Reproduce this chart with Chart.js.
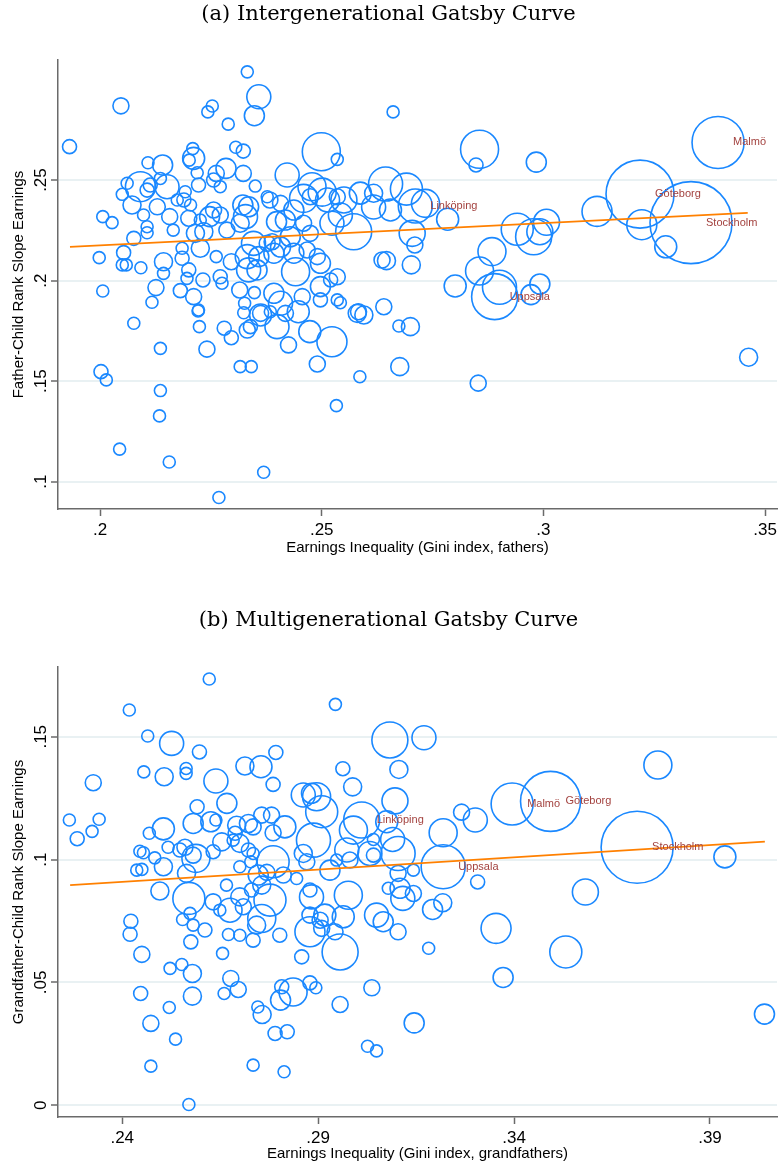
<!DOCTYPE html>
<html>
<head>
<meta charset="utf-8">
<script src="https://cdn.jsdelivr.net/npm/chart.js@4.4.0/dist/chart.umd.min.js"></script>
<style>
  body { margin: 0; background: #fff; }
  canvas { display: block; }
</style>
</head>
<body>
<canvas id="chartA" width="779" height="561"></canvas>
<canvas id="chartB" width="779" height="606"></canvas>
<script>
// ---- (a) fathers: municipalities ----
const giniA = [0.2332,0.2047,0.1931,0.2358,0.2348,0.2253,0.2243,0.2289,0.2499,0.2535,0.2306,0.2323,0.2209,0.2211,0.2201,0.2108,0.2141,0.2284,0.2262,0.2323,0.2422,0.2219,0.2256,0.2271,0.2222,0.2350,0.2061,0.2091,0.2151,0.2136,0.2113,0.2106,0.2050,0.2072,0.2129,0.2192,0.2189,0.2174,0.2204,0.2157,0.2098,0.2006,0.2027,0.2106,0.2106,0.2076,0.2165,0.2200,0.2226,0.2256,0.2247,0.2271,0.2286,0.2234,0.2215,0.2226,0.2185,0.2185,0.2200,0.2196,0.2143,0.2143,0.2053,0.2059,0.2050,0.2092,0.1998,0.2006,0.2117,0.2126,0.2181,0.2211,0.2222,0.2232,0.2262,0.2271,0.2275,0.2296,0.2315,0.2326,0.2348,0.2322,0.2335,0.2328,0.2316,0.2346,0.2332,0.2358,0.2335,0.2354,0.2377,0.2388,0.2392,0.2377,0.2383,0.2407,0.2398,0.2418,0.2437,0.2429,0.2437,0.2441,0.2459,0.2478,0.2474,0.2459,0.2474,0.2467,0.2490,0.2497,0.2456,0.2520,0.2535,0.2497,0.2535,0.2550,0.2542,0.2523,0.2572,0.2617,0.2644,0.2636,0.2535,0.2497,0.2583,0.2640,0.2392,0.2407,0.2362,0.2418,0.2221,0.2076,0.2224,0.2136,0.2241,0.2280,0.2296,0.2324,0.2332,0.2339,0.2362,0.2384,0.2399,0.2425,0.2447,0.2473,0.2523,0.2490,0.2542,0.2580,0.2595,0.2586,0.2533,0.2316,0.2341,0.2002,0.2014,0.2136,0.2134,0.2044,0.2156,0.2369,0.2268,0.2674,0.2700,0.2676,0.2853,0.3463,0.2661,0.2856,0.2848,0.2984,0.3121,0.3222,0.3276,0.2941,0.2978,0.2992,0.3007,0.2884,0.2856,0.2901,0.2801,0.2992,0.2972,0.2784,0.2691,0.2734,0.2655,0.2704,0.2710,0.2646,0.2702,0.2501,0.2513,0.2587,0.2617,0.2407];
const slopeA = [0.3038,0.2869,0.2666,0.2914,0.2820,0.2868,0.2839,0.2778,0.2641,0.2603,0.2663,0.2644,0.2656,0.2608,0.2599,0.2586,0.2575,0.2558,0.2533,0.2533,0.2525,0.2536,0.2500,0.2467,0.2475,0.2470,0.2484,0.2467,0.2467,0.2508,0.2475,0.2450,0.2429,0.2376,0.2367,0.2442,0.2401,0.2401,0.2376,0.2318,0.2326,0.2318,0.2288,0.2268,0.2238,0.2210,0.2251,0.2310,0.2301,0.2351,0.2318,0.2326,0.2251,0.2243,0.2235,0.2161,0.2161,0.2111,0.2053,0.2011,0.2094,0.2036,0.2139,0.2078,0.2078,0.2064,0.2114,0.1948,0.1892,0.1965,0.1950,0.1920,0.1854,0.2003,0.2119,0.2019,0.1987,0.2094,0.1953,0.1887,0.1940,0.2376,0.2367,0.2318,0.2285,0.2185,0.2119,0.2119,0.2053,0.2053,0.2185,0.2193,0.2136,0.2417,0.2401,0.2384,0.2293,0.2301,0.2351,0.2218,0.2136,0.2044,0.2409,0.2467,0.2417,0.2285,0.2235,0.2152,0.2119,0.2086,0.1920,0.2003,0.2019,0.1970,0.2417,0.2401,0.2326,0.2285,0.2243,0.2434,0.2480,0.2102,0.1904,0.1904,0.1845,0.1870,0.1937,0.1887,0.1837,0.1837,0.1849,0.1788,0.1771,0.1663,0.1659,0.1763,0.1716,0.1840,0.1754,0.1771,0.1829,0.1845,0.1771,0.1680,0.1845,0.1746,0.1696,0.1585,0.1890,0.1837,0.1829,0.1522,0.1378,0.1572,0.1572,0.1547,0.1506,0.1453,0.1327,0.1162,0.1098,0.1047,0.0921,0.1774,0.1771,0.1572,0.1490,0.1619,0.2839,0.2653,0.2575,0.2589,0.2344,0.2278,0.2168,0.2255,0.2218,0.2243,0.2290,0.2144,0.2048,0.1967,0.1973,0.1983,0.1930,0.2305,0.2455,0.2384,0.2351,0.2235,0.2177,0.2099,0.2078,0.2440,0.2401,0.2435,0.2366,0.2167];
const sizeA = [6,8,7,12,10,6,6,6,19,6,6,7,6,11,6,6,10,10,8,8,12,6,7,6,7,6,6,15,12,6,7,7,6,9,8,6,7,6,6,8,6,6,6,6,6,7,6,8,6,8,10,8,8,9,9,9,6,7,7,6,9,6,7,6,6,6,6,6,6,8,7,8,6,7,6,7,6,8,8,6,6,10,10,12,9,12,12,10,12,10,8,8,10,6,8,8,10,10,10,10,10,14,14,14,8,8,8,8,8,10,8,7,8,10,8,13,12,12,18,9,17,8,6,7,8,8,10,12,8,8,6,6,6,6,8,7,7,6,8,7,11,6,12,8,11,11,15,8,6,9,9,6,6,6,6,7,6,6,6,6,6,6,6,6,9,9,8,9,6,19,7,10,15,15,11,16,18,13,13,14,14,17,11,10,10,11,16,14,11,13,8,9,9,14,12,11,12,10];

// ---- (b) grandfathers: municipalities ----
const giniB = [0.2622,0.2418,0.2944,0.2465,0.2526,0.2597,0.2792,0.3083,0.2455,0.2507,0.2563,0.2563,0.2713,0.2754,0.2963,0.2326,0.2639,0.2785,0.2988,0.2667,0.2591,0.2862,0.2896,0.2909,0.2883,0.2990,0.2265,0.2341,0.2323,0.2285,0.2469,0.2505,0.2581,0.2626,0.2639,0.2692,0.2722,0.2734,0.2756,0.2781,0.2815,0.2785,0.2888,0.2973,0.3032,0.3041,0.2445,0.2454,0.2483,0.2517,0.2547,0.2560,0.2581,0.2588,0.2632,0.2654,0.2683,0.2700,0.2722,0.2734,0.2785,0.2862,0.2871,0.2947,0.2981,0.3041,0.2437,0.2450,0.2505,0.2564,0.2700,0.2728,0.2747,0.2496,0.2570,0.2632,0.2666,0.2700,0.2730,0.2756,0.2777,0.2675,0.2756,0.2743,0.2734,0.2700,0.2671,0.2649,0.2611,0.2581,0.2573,0.2554,0.2575,0.2422,0.2420,0.2450,0.2522,0.2552,0.2579,0.2579,0.2656,0.2677,0.2696,0.2660,0.2447,0.2520,0.2473,0.2536,0.2473,0.2570,0.2734,0.2746,0.2757,0.2790,0.2821,0.2813,0.2807,0.2804,0.2836,0.2879,0.2894,0.2956,0.3037,0.3026,0.3049,0.2802,0.2858,0.2879,0.2879,0.2879,0.2883,0.2905,0.2909,0.2917,0.2943,0.2956,0.2964,0.2977,0.2930,0.3049,0.3066,0.3079,0.2811,0.2845,0.3143,0.3307,0.3104,0.3109,0.3116,0.3143,0.3104,0.3192,0.3218,0.3182,0.3354,0.3372,0.3532,0.3582,0.3938,0.3145,0.4039,0.3170,0.3106,0.3096,0.3075,0.3266,0.3301,0.3767,0.3219,0.3090,0.3104,0.2709,0.2769,0.2688];
const slopeB = [0.1735,0.1609,0.1632,0.1503,0.1473,0.1438,0.1436,0.1487,0.1357,0.1337,0.1371,0.1351,0.1381,0.1378,0.1370,0.1313,0.1320,0.1306,0.1296,0.1229,0.1215,0.1263,0.1256,0.1195,0.1270,0.1120,0.1161,0.1164,0.1115,0.1085,0.1107,0.1125,0.1147,0.1154,0.1161,0.1140,0.1147,0.1133,0.1181,0.1181,0.1133,0.1109,0.1079,0.1039,0.1025,0.1082,0.1034,0.1028,0.1007,0.1050,0.1039,0.1050,0.1018,0.1005,0.1032,0.1072,0.1079,0.1066,0.1039,0.1025,0.0991,0.1025,0.0991,0.0998,0.0998,0.1018,0.0957,0.0960,0.0971,0.0944,0.0971,0.0991,0.0937,0.0872,0.0842,0.0828,0.0896,0.0848,0.0876,0.0896,0.0835,0.0794,0.0760,0.0733,0.0672,0.0692,0.0695,0.0794,0.0713,0.0733,0.0781,0.0756,0.0665,0.0749,0.0696,0.0614,0.0557,0.0573,0.0536,0.0444,0.0618,0.0516,0.0471,0.0455,0.0455,0.0398,0.0333,0.0269,0.0159,0.0003,0.0163,0.0400,0.0369,0.0292,0.0299,0.0136,0.0482,0.0428,0.0461,0.0498,0.0478,0.0410,0.0478,0.0240,0.0221,0.0692,0.0604,0.0706,0.0774,0.0876,0.0848,0.0753,0.0720,0.0774,0.0706,0.0624,0.0767,0.0855,0.0957,0.0774,0.0747,0.0883,0.0937,0.0923,0.0957,0.0909,0.0944,0.0883,0.0842,0.0862,0.0706,0.0797,0.0824,0.0639,0.0720,0.0520,0.0624,0.0868,0.1011,0.0335,0.0371,0.1496,0.1367,0.1239,0.1154,0.1193,0.1161,0.1385,0.1109,0.1082,0.1025,0.0808,0.0948,0.1107];
const sizeB = [6,6,6,6,12,7,7,18,6,9,
  6,6,9,11,7,8,12,7,9,10,
  7,12,14,16,10,14,6,6,6,7,
  6,11,10,10,6,9,9,8,8,8,
  11,8,17,12,12,6,6,6,6,6,
  7,8,8,14,7,9,6,9,7,6,
  16,9,8,6,8,7,6,6,9,9,
  6,6,10,9,16,8,6,9,7,9,
  16,12,14,9,7,6,6,6,7,6,
  6,6,7,7,7,8,6,6,9,9,
  6,8,8,6,7,6,8,6,6,6,
  6,6,9,7,7,6,7,10,14,7,
  6,8,8,6,6,7,7,15,8,7,
  12,8,8,11,8,18,11,14,10,12,
  10,6,8,6,6,7,8,10,12,8,8,10,9,6,15,10,16,13,11,10,10,12,9,13,11,8,12,14,14,12,17,8,8,7];

// ---- labelled cities ----
const cityNames = ["Malmö", "Göteborg", "Stockholm", "Linköping", "Uppsala"];
const cityGiniA = [0.3394, 0.3218, 0.3333, 0.2711, 0.2890];
const citySlopeA = [0.2687, 0.2430, 0.2288, 0.2371, 0.1920];
const citySizeA = [26, 34, 41, 17, 23];
const cityGiniB = [0.3395, 0.3493, 0.3714, 0.3011, 0.3219];
const citySlopeB = [0.1226, 0.1237, 0.1050, 0.1161, 0.0971];
const citySizeB = [21, 30, 36, 18, 22];

// ---- fitted lines ----
const fitGiniA = [0.1932, 0.3461];
const fitSlopeA = [0.2168, 0.2337];
const fitGiniB = [0.2267, 0.4040];
const fitSlopeB = [0.0896, 0.1073];

// ---- axes ----
const ticksXA = [0.2, 0.25, 0.3, 0.35];
const ticksYA = [0.1, 0.15, 0.2, 0.25];
const ticksXB = [0.24, 0.29, 0.34, 0.39];
const ticksYB = [0, 0.05, 0.1, 0.15];

const SANS = '"Liberation Sans", Arial, Helvetica, sans-serif';
const AXIS = '#6a6a6a';
Chart.defaults.font.family = SANS;

const fmt = v => (v === 0 ? '0' : String(v).replace(/^0/, ''));

const cityLabels = {
  id: 'cityLabels',
  afterDatasetsDraw(chart, args, opts) {
    const { ctx, scales } = chart;
    ctx.save();
    ctx.font = '11px ' + SANS;
    ctx.fillStyle = '#a3423f';
    ctx.textBaseline = 'middle';
    opts.names.forEach((name, i) => {
      const px = scales.x.getPixelForValue(opts.xs[i]);
      const py = scales.y.getPixelForValue(opts.ys[i]);
      ctx.fillText(name, px + 15, py);
    });
    ctx.restore();
  }
};

function build(id, p) {
  const pts = p.xs.concat(p.cx).map((x, i) => ({
    x,
    y: p.ys.concat(p.cy)[i],
    r: p.rs.concat(p.cr)[i]
  }));
  return new Chart(document.getElementById(id), {
    type: 'bubble',
    data: {
      datasets: [
        {
          type: 'line',
          data: p.fx.map((x, i) => ({ x, y: p.fy[i] })),
          borderColor: '#ff8000',
          borderWidth: 1.7,
          pointRadius: 0,
          fill: false
        },
        {
          data: pts,
          borderColor: '#1a88ff',
          backgroundColor: 'rgba(0,0,0,0)',
          borderWidth: 1.6,
          hoverRadius: 0,
          clip: false
        }
      ]
    },
    options: {
      responsive: false,
      animation: false,
      events: [],
      layout: { autoPadding: false, padding: { left: 0, right: 2, top: 0, bottom: 0 } },
      plugins: {
        legend: { display: false },
        tooltip: { enabled: false },
        title: {
          display: true,
          text: p.title,
          color: '#000',
          font: { family: '"DejaVu Serif", serif', size: 21, weight: 'normal', lineHeight: 1.2 },
          padding: p.titlePad
        },
        cityLabels: { names: cityNames, xs: p.cx, ys: p.cy }
      },
      scales: {
        x: {
          type: 'linear',
          min: p.xmin, max: p.xmax,
          afterFit: s => { s.height = p.xh; s.paddingLeft = 0; s.paddingRight = 0; },
          afterBuildTicks: s => { s.ticks = p.tx.map(v => ({ value: v })); },
          border: { color: AXIS, width: 1.5 },
          grid: { drawOnChartArea: false, tickColor: AXIS, tickLength: 7, tickWidth: 1.5 },
          ticks: { color: '#000', font: { size: 17 }, padding: 4, maxRotation: 0, callback: fmt },
          title: { display: true, text: p.xt, color: '#000', font: { size: 15 }, padding: { top: 0, bottom: 4 } }
        },
        y: {
          type: 'linear',
          min: p.ymin, max: p.ymax,
          afterFit: s => { s.width = 58; s.paddingTop = 0; s.paddingBottom = 0; },
          afterBuildTicks: s => { s.ticks = p.ty.map(v => ({ value: v })); },
          border: { color: AXIS, width: 1.5 },
          grid: { color: '#e9f1f3', lineWidth: 2, tickColor: AXIS, tickLength: 7, tickWidth: 1.5 },
          ticks: { color: '#000', font: { size: 17 }, minRotation: 90, maxRotation: 90, crossAlign: 'center', padding: -2, callback: fmt },
          title: { display: true, text: p.yt, color: '#000', font: { size: 15 }, padding: { top: 10, bottom: 0 } }
        }
      }
    },
    plugins: [cityLabels]
  });
}

build('chartA', {
  title: '(a) Intergenerational Gatsby Curve',
  titlePad: { top: 2, bottom: 32.8 },
  xs: giniA, ys: slopeA, rs: sizeA,
  cx: cityGiniA, cy: citySlopeA, cr: citySizeA,
  fx: fitGiniA, fy: fitSlopeA,
  xmin: 0.1905, xmax: 0.3527, ymin: 0.0864, ymax: 0.3097,
  tx: ticksXA, ty: ticksYA, xh: 52,
  xt: 'Earnings Inequality (Gini index, fathers)',
  yt: 'Father-Child Rank Slope Earnings'
});

build('chartB', {
  title: '(b) Multigenerational Gatsby Curve',
  titlePad: { top: 47, bottom: 33.8 },
  xs: giniB, ys: slopeB, rs: sizeB,
  cx: cityGiniB, cy: citySlopeB, cr: citySizeB,
  fx: fitGiniB, fy: fitSlopeB,
  xmin: 0.2236, xmax: 0.4071, ymin: -0.0048, ymax: 0.1784,
  tx: ticksXB, ty: ticksYB, xh: 50,
  xt: 'Earnings Inequality (Gini index, grandfathers)',
  yt: 'Grandfather-Child Rank Slope Earnings'
});
</script>
</body>
</html>
